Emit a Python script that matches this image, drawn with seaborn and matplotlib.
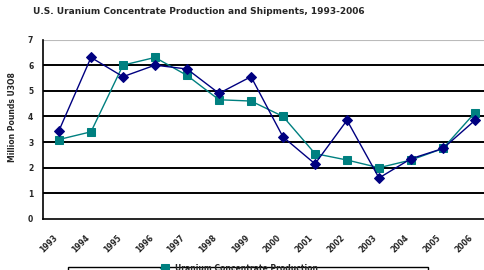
import matplotlib
matplotlib.use("Agg")
import matplotlib.pyplot as plt
from matplotlib.patches import Rectangle
import pandas as pd
import seaborn as sns

years = [str(y) for y in range(1993, 2007)]
production = [3.1, 3.4, 6.0, 6.3, 5.6, 4.65, 4.6, 4.0, 2.55, 2.3, 2.0, 2.3, 2.75, 4.15]
shipments = [3.45, 6.3, 5.55, 6.0, 5.85, 4.9, 5.55, 3.2, 2.15, 3.85, 1.6, 2.35, 2.75, 3.85]

df = pd.DataFrame({"idx": range(len(years)), "year": years,
                   "prod": production, "ship": shipments})

sns.set_style("white")
plt.rcParams["font.family"] = ["DejaVu Sans"]
plt.rcParams["font.weight"] = "bold"

fig = plt.figure(figsize=(4.84, 2.7), dpi=100)
# plot area runs slightly past the right edge, like the cropped original
ax = fig.add_axes([43 / 484, 1 - 219 / 270, 448 / 484, (219 - 39.5) / 270])

for v in range(1, 7):
    ax.axhline(v, color="black", lw=1.4, zorder=1)
ax.axhline(7, color="#bbbbbb", lw=0.8, zorder=1)

sns.lineplot(data=df, x="idx", y="prod", ax=ax, color="#008080", marker="s",
             markersize=6, markeredgecolor="#008080", lw=1, zorder=3,
             label="Uranium Concentrate Production")
sns.lineplot(data=df, x="idx", y="ship", ax=ax, color="#000080", marker="D",
             markersize=5, markeredgecolor="#000080", lw=1, zorder=4,
             label="Uranium Concentrate Shipments")

ax.set_xlim(-0.5, len(years) - 0.5)
ax.set_ylim(0, 7)
ax.set_yticks(range(0, 8))
ax.set_yticklabels([str(v) for v in range(0, 8)], fontsize=5.5, fontweight="bold")
ax.set_xticks(range(len(years)))
ax.set_xticklabels(years, rotation=45, ha="right", fontsize=5.5, fontweight="bold")
ax.set_xticks([i - 0.5 for i in range(len(years) + 1)], minor=True)
ax.tick_params(axis="x", which="major", length=0, pad=10)
ax.tick_params(axis="x", which="minor", length=3, width=1, color="black", direction="out")
ax.tick_params(axis="y", length=3, width=1, color="black", direction="out", pad=4)
ax.set_xlabel("")
ax.set_ylabel("Million Pounds U3O8", fontsize=5.5, fontweight="bold")
ax.yaxis.set_label_coords(-0.059, 0.57)

for s in ["top", "right"]:
    ax.spines[s].set_visible(False)
for s in ["left", "bottom"]:
    ax.spines[s].set_color("black")
    ax.spines[s].set_linewidth(1.2)

fig.text(33 / 484, 1 - 12 / 270, "U.S. Uranium Concentrate Production and Shipments, 1993-2006",
         fontsize=6.5, fontweight="bold", va="center", ha="left")

handles, labels = ax.get_legend_handles_labels()
ax.legend_.remove()
fig.patches.append(Rectangle((68 / 484, 1 - 280 / 270), 360 / 484, 13 / 270,
                             transform=fig.transFigure, fill=False,
                             edgecolor="black", lw=1))
fig.legend(handles, labels, loc="upper left", bbox_to_anchor=(160 / 484, 1 - 264 / 270),
           ncol=1, frameon=False, fontsize=5.5, handlelength=1.2,
           borderaxespad=0, borderpad=0)

fig.savefig("out.png", dpi=100)
